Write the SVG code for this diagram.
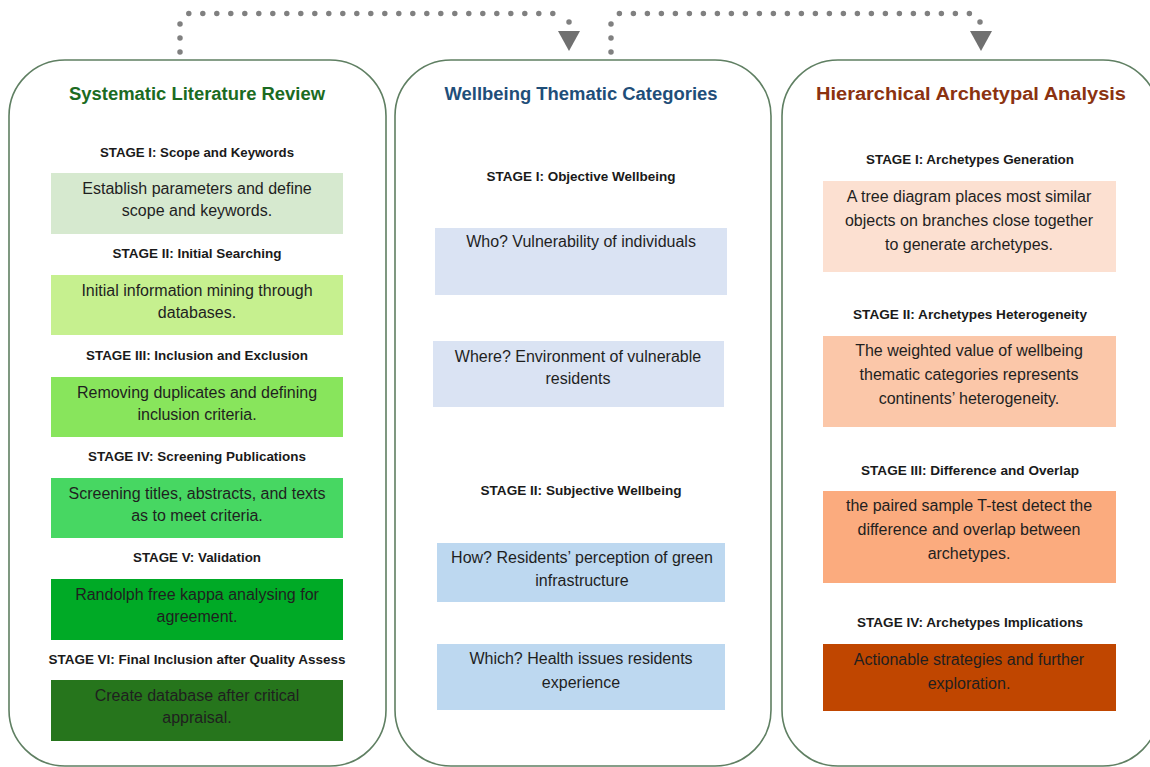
<svg xmlns="http://www.w3.org/2000/svg" width="1150" height="767" viewBox="0 0 1150 767">
<defs>
<style>
.panel{fill:#fff;stroke:#5f7f62;stroke-width:1.6}
.title{font-family:"Liberation Sans Narrow","Liberation Sans",Arial,sans-serif;font-weight:bold;font-size:18px;text-anchor:middle}
.stage{font-family:"Liberation Sans",Arial,sans-serif;font-weight:bold;font-size:13px;fill:#1a1a1a;text-anchor:middle}
.body{font-family:"Liberation Sans",Arial,sans-serif;font-size:16px;fill:#1f1f1f;text-anchor:middle}
.dots{fill:none;stroke:#808080;stroke-width:5.5;stroke-linecap:round;stroke-dasharray:0 14}
.head{fill:#707070}
</style>
</defs>
<rect width="1150" height="767" fill="#fff"/>

<g id="connectors">
<path class="dots" d="M180,52 L180,24 L188,13.5 L560,13.5 M569,22 L569,22.01"/>
<polygon class="head" points="558,31 580,31 569,51"/>
<path class="dots" d="M611,52 L611,24 L618,13.5 L972,13.5 M980,22 L980,22.01"/>
<polygon class="head" points="970,31 992,31 981,51"/>
</g>

<g id="panel-slr">
<rect class="panel" x="9" y="60" width="377" height="706" rx="56" ry="56"/>
<text class="title" x="197" y="100" fill="#1b6b22" textLength="256" lengthAdjust="spacingAndGlyphs">Systematic Literature Review</text>
<text class="stage" x="197" y="157" textLength="194" lengthAdjust="spacingAndGlyphs">STAGE I: Scope and Keywords</text>
<rect x="51" y="173" width="292" height="61" fill="#d6e9cf"/>
<text class="body" x="197" y="194">Establish parameters and define</text>
<text class="body" x="197" y="216">scope and keywords.</text>
<text class="stage" x="197" y="258" textLength="169" lengthAdjust="spacingAndGlyphs">STAGE II: Initial Searching</text>
<rect x="51" y="275" width="292" height="60" fill="#c6f08f"/>
<text class="body" x="197" y="296">Initial information mining through</text>
<text class="body" x="197" y="318">databases.</text>
<text class="stage" x="197" y="360" textLength="222" lengthAdjust="spacingAndGlyphs">STAGE III: Inclusion and Exclusion</text>
<rect x="51" y="377" width="292" height="60" fill="#88e55c"/>
<text class="body" x="197" y="398">Removing duplicates and defining</text>
<text class="body" x="197" y="420">inclusion criteria.</text>
<text class="stage" x="197" y="461" textLength="218" lengthAdjust="spacingAndGlyphs">STAGE IV: Screening Publications</text>
<rect x="51" y="478" width="292" height="60" fill="#47d762"/>
<text class="body" x="197" y="499">Screening titles, abstracts, and texts</text>
<text class="body" x="197" y="521">as to meet criteria.</text>
<text class="stage" x="197" y="562" textLength="128" lengthAdjust="spacingAndGlyphs">STAGE V: Validation</text>
<rect x="51" y="579" width="292" height="61" fill="#00aa26"/>
<text class="body" x="197" y="600">Randolph free kappa analysing for</text>
<text class="body" x="197" y="622">agreement.</text>
<text class="stage" x="197" y="664" textLength="297" lengthAdjust="spacingAndGlyphs">STAGE VI: Final Inclusion after Quality Assess</text>
<rect x="51" y="680" width="292" height="61" fill="#26751c"/>
<text class="body" x="197" y="701">Create database after critical</text>
<text class="body" x="197" y="723">appraisal.</text>
</g>

<g id="panel-wtc">
<rect class="panel" x="395" y="60" width="376" height="706" rx="56" ry="56"/>
<text class="title" x="581" y="100" fill="#1f4e79" textLength="273" lengthAdjust="spacingAndGlyphs">Wellbeing Thematic Categories</text>
<text class="stage" x="581" y="181" textLength="189" lengthAdjust="spacingAndGlyphs">STAGE I: Objective Wellbeing</text>
<rect x="435" y="228" width="292" height="67" fill="#dae3f3"/>
<text class="body" x="581" y="247">Who? Vulnerability of individuals</text>
<rect x="433" y="341" width="291" height="66" fill="#dae3f3"/>
<text class="body" x="578" y="362">Where? Environment of vulnerable</text>
<text class="body" x="578" y="384">residents</text>
<text class="stage" x="581" y="495" textLength="201" lengthAdjust="spacingAndGlyphs">STAGE II: Subjective Wellbeing</text>
<rect x="437" y="543" width="288" height="59" fill="#bdd8f0"/>
<text class="body" x="582" y="563">How? Residents’ perception of green</text>
<text class="body" x="582" y="586">infrastructure</text>
<rect x="437" y="644" width="288" height="66" fill="#bdd8f0"/>
<text class="body" x="581" y="664">Which? Health issues residents</text>
<text class="body" x="581" y="688">experience</text>
</g>

<g id="panel-haa">
<rect class="panel" x="782" y="60" width="377" height="706" rx="56" ry="56"/>
<text class="title" x="971" y="100" fill="#8b3210" textLength="310" lengthAdjust="spacingAndGlyphs">Hierarchical Archetypal Analysis</text>
<text class="stage" x="970" y="164" textLength="208" lengthAdjust="spacingAndGlyphs">STAGE I: Archetypes Generation</text>
<rect x="823" y="181" width="293" height="91" fill="#fce0d1"/>
<text class="body" x="969" y="202">A tree diagram places most similar</text>
<text class="body" x="969" y="226">objects on branches close together</text>
<text class="body" x="969" y="250">to generate archetypes.</text>
<text class="stage" x="970" y="319" textLength="234" lengthAdjust="spacingAndGlyphs">STAGE II: Archetypes Heterogeneity</text>
<rect x="823" y="336" width="293" height="91" fill="#fbc7a9"/>
<text class="body" x="969" y="356">The weighted value of wellbeing</text>
<text class="body" x="969" y="380">thematic categories represents</text>
<text class="body" x="969" y="404">continents’ heterogeneity.</text>
<text class="stage" x="970" y="475" textLength="218" lengthAdjust="spacingAndGlyphs">STAGE III: Difference and Overlap</text>
<rect x="823" y="491" width="293" height="92" fill="#fbab7e"/>
<text class="body" x="969" y="511">the paired sample T-test detect the</text>
<text class="body" x="969" y="535">difference and overlap between</text>
<text class="body" x="969" y="559">archetypes.</text>
<text class="stage" x="970" y="627" textLength="226" lengthAdjust="spacingAndGlyphs">STAGE IV: Archetypes Implications</text>
<rect x="823" y="644" width="293" height="67" fill="#c04600"/>
<text class="body" x="969" y="665">Actionable strategies and further</text>
<text class="body" x="969" y="689">exploration.</text>
</g>
</svg>
